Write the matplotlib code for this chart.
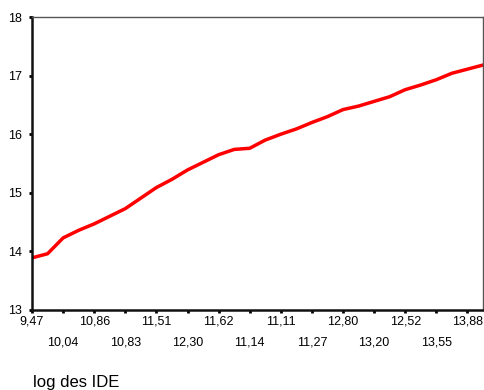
import matplotlib
matplotlib.use("Agg")
import matplotlib.pyplot as plt
import numpy as np

plt.rcParams['font.family'] = ['Liberation Sans', 'DejaVu Sans']

# observed series (one value per observation)
values = [13.89, 13.96, 14.23, 14.36, 14.47, 14.60, 14.73, 14.91, 15.09, 15.23,
          15.39, 15.52, 15.65, 15.74, 15.76, 15.90, 16.00, 16.09, 16.20, 16.30,
          16.42, 16.48, 16.56, 16.64, 16.76, 16.84, 16.93, 17.04, 17.11, 17.18]

# tick labels, one every second observation
top_labels = ['9,47', '10,86', '11,51', '11,62', '11,11', '12,80', '12,52', '13,88']
bottom_labels = ['10,04', '10,83', '12,30', '11,14', '11,27', '13,20', '13,55']

x = np.arange(len(values))

fig = plt.figure(figsize=(4.85, 3.9), dpi=100)
ax = fig.add_axes([32 / 485, 80 / 390, 451 / 485, 293 / 390])

ax.plot(x, values, color='#ff0000', lw=2.5, solid_joinstyle='round')

ax.set_xlim(0, len(values) - 1)
ax.set_ylim(13, 18)

ax.set_xticks(x[::4])
ax.set_xticklabels(top_labels)
ax.set_xticks(x[2::4], minor=True)
ax.set_xticklabels(bottom_labels, minor=True)
ax.set_yticks([13, 14, 15, 16, 17, 18])

ax.tick_params(axis='x', which='major', length=2, width=2, pad=2, labelsize=9)
ax.tick_params(axis='x', which='minor', length=2, width=2, pad=17, labelsize=9)
ax.tick_params(axis='y', length=2, width=2, pad=5, labelsize=9)

for s in ['left', 'bottom']:
    ax.spines[s].set_linewidth(1.8)
    ax.spines[s].set_color('#111111')
for s in ['top', 'right']:
    ax.spines[s].set_linewidth(1.0)
    ax.spines[s].set_color('#555555')

fig.text(33 / 485, 1 - 383 / 390, 'log des IDE', fontsize=12, va='center', ha='left')

fig.savefig('out.png', dpi=100)
